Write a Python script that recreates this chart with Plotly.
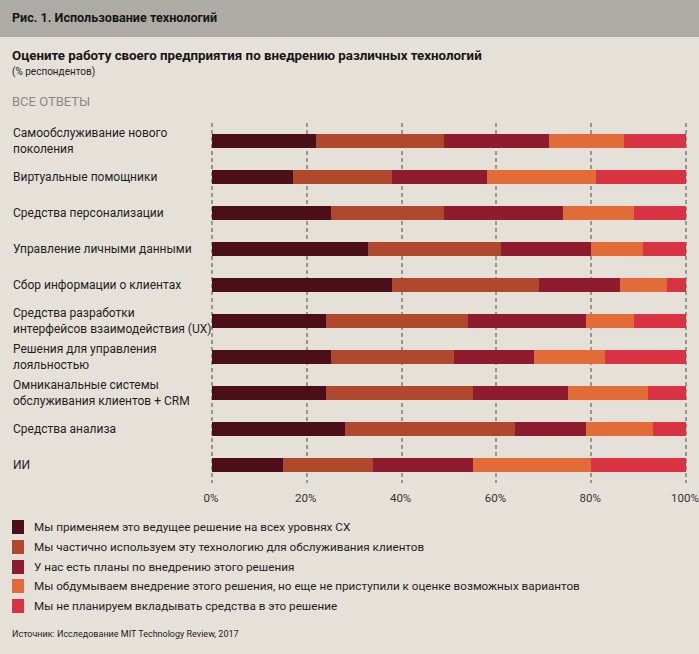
import plotly.graph_objects as go

categories = [
    "Самообслуживание нового<br>поколения",
    "Виртуальные помощники",
    "Средства персонализации",
    "Управление личными данными",
    "Сбор информации о клиентах",
    "Средства разработки<br>интерфейсов взаимодействия (UX)",
    "Решения для управления<br>лояльностью",
    "Омниканальные системы<br>обслуживания клиентов + CRM",
    "Средства анализа",
    "ИИ",
]

series_names = [
    "Мы применяем это ведущее решение на всех уровнях CX",
    "Мы частично используем эту технологию для обслуживания клиентов",
    "У нас есть планы по внедрению этого решения",
    "Мы обдумываем внедрение этого решения, но еще не приступили к оценке возможных вариантов",
    "Мы не планируем вкладывать средства в это решение",
]

s_leading = [22, 17, 25, 33, 38, 24, 25, 24, 28, 15]
s_partial = [27, 21, 24, 28, 31, 30, 26, 31, 36, 19]
s_plans = [22, 20, 25, 19, 17, 25, 17, 20, 15, 21]
s_considering = [16, 23, 15, 11, 10, 10, 15, 17, 14, 25]
s_no = [13, 19, 11, 9, 4, 11, 17, 8, 7, 20]
series_values = [s_leading, s_partial, s_plans, s_considering, s_no]

tick_vals = [0, 20, 40, 60, 80, 100]
tick_text = ["0%", "20%", "40%", "60%", "80%", "100%"]

colors = ["#4b0f19", "#b0482d", "#8f1b2e", "#e16c37", "#d83243"]

W, H = 699, 654
L, R, T, B = 210, 688, 123, 483
X_RANGE = [-0.42, 100.42]


def px(x):
    return (x - L) / (R - L)


def py(y):
    return (B - y) / (B - T)


FONT = "Roboto, 'Open Sans', sans-serif"
BG = "#e5e1d9"

fig = go.Figure()
for name, vals, col in zip(series_names, series_values, colors):
    fig.add_trace(go.Bar(
        y=categories, x=vals, name=name, orientation="h",
        marker=dict(color=col, line=dict(width=0)),
        width=0.39, showlegend=False, hoverinfo="x+name",
    ))

shapes = [
    dict(type="rect", xref="paper", yref="paper", x0=px(0), x1=px(W), y0=py(0), y1=py(37),
         fillcolor="#adaba5", line=dict(width=0), layer="below"),
]
annotations = [
    dict(text="<b>Рис. 1. Использование технологий</b>", x=px(10), y=py(18), xref="paper", yref="paper",
         xanchor="left", yanchor="middle", showarrow=False, font=dict(size=12.6, color="#161616", family=FONT)),
    dict(text="<b>Оцените работу своего предприятия по внедрению различных технологий</b>", x=px(10), y=py(55),
         xref="paper", yref="paper", xanchor="left", yanchor="middle", showarrow=False,
         font=dict(size=13.3, color="#161616", family=FONT)),
    dict(text="(% респондентов)", x=px(10), y=py(72), xref="paper", yref="paper",
         xanchor="left", yanchor="middle", showarrow=False, font=dict(size=10, color="#222222", family=FONT)),
    dict(text="ВСЕ ОТВЕТЫ", x=px(10), y=py(101), xref="paper", yref="paper",
         xanchor="left", yanchor="middle", showarrow=False, font=dict(size=13, color="#8b8882", family=FONT)),
    dict(text="Источник: Исследование MIT Technology Review, 2017", x=px(10), y=py(634), xref="paper", yref="paper",
         xanchor="left", yanchor="middle", showarrow=False, font=dict(size=9, color="#222222", family=FONT)),
]
for c in categories:
    annotations.append(dict(text=c, x=px(11), y=c, xref="paper", yref="y", xanchor="left", yanchor="middle",
                            align="left", showarrow=False, font=dict(size=12, color="#1e1e1e", family=FONT)))

leg_y = [527, 547, 567, 586, 606]
for name, col, yy in zip(series_names, colors, leg_y):
    shapes.append(dict(type="rect", xref="paper", yref="paper", x0=px(12), x1=px(24), y0=py(yy - 7), y1=py(yy + 7),
                       fillcolor=col, line=dict(width=0)))
    annotations.append(dict(text=name, x=px(32), y=py(yy), xref="paper", yref="paper", xanchor="left",
                            yanchor="middle", showarrow=False, font=dict(size=11.7, color="#1e1e1e", family=FONT)))

fig.update_layout(
    width=W, height=H, barmode="stack",
    margin=dict(l=L, r=W - R, t=T, b=H - B, pad=0, autoexpand=False),
    paper_bgcolor=BG, plot_bgcolor=BG,
    font=dict(family=FONT, color="#222222"),
    shapes=shapes, annotations=annotations,
    xaxis=dict(range=X_RANGE, tickvals=tick_vals, ticktext=tick_text, showgrid=True,
               gridcolor="#9b968d", gridwidth=1.5, griddash="4px,3px", zeroline=False, showline=False,
               ticks="", tickfont=dict(size=11.5, color="#333333"), fixedrange=True,
               ticklabeloverflow="allow", ticklabelstandoff=6, ticklabelshift=-1, automargin=False),
    yaxis=dict(autorange="reversed", showticklabels=False, showgrid=False, zeroline=False, showline=False,
               ticks="", fixedrange=True, automargin=False),
    bargap=0.6,
)

fig.write_html("out.html", config={"displayModeBar": False},
               post_script="document.body.style.margin='0';document.body.style.background='#e5e1d9';")
